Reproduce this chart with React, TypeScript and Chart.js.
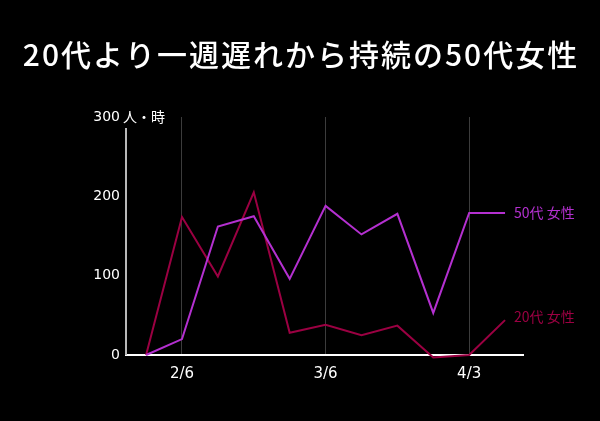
import React, { useEffect, useRef } from "react";
import { Chart, registerables } from "chart.js";

Chart.register(...registerables);

const TITLE = "20代より一週遅れから持続の50代女性";
const WEEKS = ["1/30", "2/6", "2/13", "2/20", "2/27", "3/6", "3/13", "3/20", "3/27", "4/3", "4/10"];
const SHOWN_WEEKS = ["2/6", "3/6", "4/3"];
const WOMEN_50S = [0, 20, 162, 175, 96, 188, 152, 178, 53, 179, 179];
const WOMEN_20S = [0, 174, 99, 205, 28, 38, 25, 37, -3, 0, 44];
const SERIES_NAMES = ["50代 女性", "20代 女性"];
const Y_TICKS = [0, 100, 200, 300];
const Y_UNIT = "人・時";

const PURPLE = "#b430d0";
const RED = "#9b0042";
const FONT = "'Noto Sans CJK JP', 'Noto Sans', sans-serif";
const NUM_FONT = "'DejaVu Sans', sans-serif";

export default function App() {
  const ref = useRef<HTMLCanvasElement | null>(null);

  useEffect(() => {
    document.body.style.margin = "0";
    document.body.style.background = "#000";
    const canvas = ref.current!;
    const overlay = {
      id: "overlay",
      afterDraw(chart: any) {
        const ctx = chart.ctx;
        const x = chart.scales.x;
        const y = chart.scales.y;
        ctx.save();
        // title
        ctx.fillStyle = "#fff";
        ctx.font = `500 30px ${FONT}`;
        (ctx as any).letterSpacing = "2px";
        ctx.textAlign = "center";
        ctx.textBaseline = "middle";
        ctx.fillText(TITLE, 301, 55);
        (ctx as any).letterSpacing = "0px";
        // y axis line
        ctx.strokeStyle = "#b8b8b8";
        ctx.lineWidth = 2;
        ctx.beginPath();
        ctx.moveTo(chart.chartArea.left, y.getPixelForValue(286));
        ctx.lineTo(chart.chartArea.left, chart.chartArea.bottom);
        ctx.stroke();
        // unit
        ctx.font = `14px ${FONT}`;
        ctx.textAlign = "left";
        ctx.fillStyle = "#fff";
        ctx.fillText(Y_UNIT, chart.chartArea.left - 3, y.getPixelForValue(300));
        // end labels
        const series = [WOMEN_50S, WOMEN_20S];
        const colors = [PURPLE, RED];
        series.forEach((s, i) => {
          const last = s.length - 1;
          const px = x.getPixelForValue(last) + 9;
          const py = y.getPixelForValue(s[last]) - (i === 1 ? 3 : 0);
          ctx.fillStyle = colors[i];
          ctx.font = `14px ${FONT}`;
          ctx.fillText(SERIES_NAMES[i], px, py);
        });
        ctx.restore();
      },
    };

    const chart = new Chart(canvas, {
      type: "line",
      data: {
        datasets: [
          {
            label: SERIES_NAMES[0],
            data: WOMEN_50S.map((v, i) => ({ x: i, y: v })),
            borderColor: PURPLE,
            borderWidth: 2,
            pointRadius: 0,
            tension: 0,
            clip: false as any,
          },
          {
            label: SERIES_NAMES[1],
            data: WOMEN_20S.map((v, i) => ({ x: i, y: v })),
            borderColor: RED,
            borderWidth: 2,
            pointRadius: 0,
            tension: 0,
            clip: false as any,
          },
        ],
      },
      options: {
        animation: false,
        responsive: false,
        maintainAspectRatio: false,
        layout: { padding: { left: 0, right: 77, top: 117, bottom: 0 } },
        plugins: { legend: { display: false }, tooltip: { enabled: false }, title: { display: false } },
        scales: {
          x: {
            type: "linear",
            min: -0.56,
            max: 10.5,
            afterBuildTicks: (scale: any) => {
              scale.ticks = SHOWN_WEEKS.map((w) => ({ value: WEEKS.indexOf(w) }));
            },
            afterFit: (scale: any) => {
              scale.height = 66;
            },
            ticks: {
              color: "#fff",
              font: { family: NUM_FONT, size: 15 },
              padding: 10,
              maxRotation: 0,
              autoSkip: false,
              callback: (v: any) => WEEKS[Number(v)] ?? "",
            },
            grid: { color: "#3c3c3c", lineWidth: 1, drawTicks: false },
            border: { color: "#fff", width: 2 },
          },
          y: {
            min: 0,
            max: 300,
            afterBuildTicks: (scale: any) => {
              scale.ticks = Y_TICKS.map((v) => ({ value: v }));
            },
            afterFit: (scale: any) => {
              scale.width = 126;
            },
            ticks: {
              color: "#fff",
              font: { family: NUM_FONT, size: 14 },
              padding: 6,
            },
            grid: { display: false, drawTicks: false },
            border: { display: false },
          },
        },
      },
      plugins: [overlay],
    } as any);
    return () => chart.destroy();
  }, []);

  return (
    <div style={{ width: 600, height: 421, background: "#000" }}>
      <canvas ref={ref} width={600} height={421} style={{ display: "block" }} />
    </div>
  );
}
